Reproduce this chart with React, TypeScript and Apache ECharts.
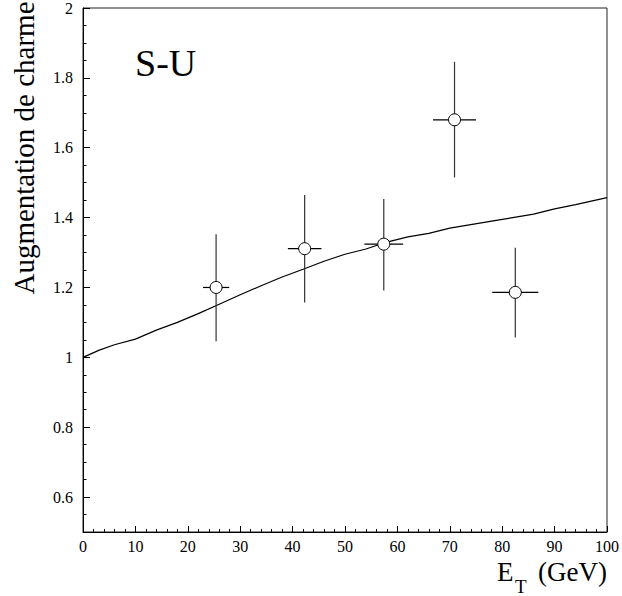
import React, { useEffect, useRef } from "react";
import * as echarts from "echarts";

// Model curve
const curveX = [0, 3, 6, 10, 14, 18, 22, 26, 30, 34, 38, 42, 46, 50, 54, 58, 62, 66, 70, 74, 78, 82, 86, 90, 94, 100];
const curveY = [1.0, 1.02, 1.036, 1.052, 1.078, 1.1, 1.125, 1.152, 1.179, 1.205, 1.23, 1.252, 1.275, 1.295, 1.31, 1.33, 1.345, 1.355, 1.37, 1.38, 1.39, 1.4, 1.41, 1.425, 1.437, 1.457];

// Data points with errors
const pointsX = [25.4, 42.3, 57.4, 70.9, 82.5];
const pointsY = [1.2, 1.311, 1.324, 1.68, 1.186];
const xErr = [2.5, 3.2, 3.7, 4.1, 4.4];
const yLow = [1.046, 1.157, 1.191, 1.515, 1.057];
const yHigh = [1.352, 1.465, 1.453, 1.846, 1.314];

const yMajorTicks = [0.6, 0.8, 1, 1.2, 1.4, 1.6, 1.8, 2];

const FONT = "'Liberation Serif', 'Times New Roman', Times, serif";

export default function App() {
  const ref = useRef<HTMLDivElement>(null);
  useEffect(() => {
    if (!ref.current) return;
    const chart = echarts.init(ref.current, null, { renderer: "svg" });
    const pts = pointsX.map((x, i) => [x, pointsY[i], xErr[i], yLow[i], yHigh[i]]);
    const option: any = {
      animation: false,
      backgroundColor: "#fff",
      textStyle: { fontFamily: FONT },
      grid: {
        left: 83,
        right: 14,
        top: 6,
        bottom: 64,
        show: true,
        borderColor: "#222",
        borderWidth: 1,
      },
      xAxis: {
        type: "value",
        min: 0,
        max: 100,
        interval: 10,
        axisLine: { show: true, lineStyle: { color: "#000", width: 1 } },
        axisTick: { show: true, inside: true, length: 6, lineStyle: { color: "#000" } },
        minorTick: { show: true, splitNumber: 5, length: 3, lineStyle: { color: "#000" } },
        splitLine: { show: false },
        axisLabel: { fontFamily: FONT, fontSize: 16, lineHeight: 14, color: "#000", margin: 7 },
      },
      yAxis: [
        {
          type: "value",
          position: "left",
          min: 0.5,
          max: 2,
          interval: 0.05,
          axisLine: { show: true, lineStyle: { color: "#000", width: 1 } },
          axisTick: { show: true, inside: true, length: 3.5, lineStyle: { color: "#000" } },
          axisLabel: { show: false },
          splitLine: { show: false },
        },
        {
          type: "value",
          position: "left",
          min: 0.5,
          max: 2,
          interval: 0.05,
          axisLine: { show: false },
          axisTick: {
            show: true,
            inside: true,
            length: 7,
            customValues: yMajorTicks,
            lineStyle: { color: "#000" },
          },
          axisLabel: {
            show: true,
            customValues: yMajorTicks,
            fontFamily: FONT,
            fontSize: 16,
            color: "#000",
            margin: 10,
          },
          splitLine: { show: false },
        },
      ],
      graphic: [
        {
          type: "text",
          x: 135,
          y: 63,
          style: {
            text: "S-U",
            fontFamily: FONT,
            fontSize: 38,
            fill: "#000",
            textVerticalAlign: "middle",
          },
        },
        {
          type: "text",
          x: 24,
          y: 148,
          rotation: Math.PI / 2,
          style: {
            text: "Augmentation de charme",
            fontFamily: FONT,
            fontSize: 29,
            fill: "#000",
            textAlign: "center",
            textVerticalAlign: "middle",
          },
        },
        {
          type: "text",
          x: 497,
          y: 572,
          style: {
            text: "E",
            fontFamily: FONT,
            fontSize: 27,
            lineHeight: 20,
            fill: "#000",
            textAlign: "left",
            textVerticalAlign: "middle",
          },
        },
        {
          type: "text",
          x: 515,
          y: 586,
          style: {
            text: "T",
            fontFamily: FONT,
            fontSize: 19,
            lineHeight: 13,
            fill: "#000",
            textAlign: "left",
            textVerticalAlign: "middle",
          },
        },
        {
          type: "text",
          x: 607,
          y: 572,
          style: {
            text: "(GeV)",
            fontFamily: FONT,
            fontSize: 27,
            lineHeight: 20,
            fill: "#000",
            textAlign: "right",
            textVerticalAlign: "middle",
          },
        },
      ],
      series: [
        {
          type: "line",
          data: curveX.map((x, i) => [x, curveY[i]]),
          showSymbol: false,
          symbol: "none",
          lineStyle: { color: "#000", width: 1.2 },
          yAxisIndex: 0,
          z: 2,
        },
        {
          type: "custom",
          data: pts,
          yAxisIndex: 0,
          encode: { x: 0, y: 1 },
          z: 3,
          renderItem: (params: any, api: any) => {
            const x = api.value(0);
            const y = api.value(1);
            const ex = api.value(2);
            const lo = api.value(3);
            const hi = api.value(4);
            const c = api.coord([x, y]);
            const l = api.coord([x - ex, y]);
            const r = api.coord([x + ex, y]);
            const t = api.coord([x, hi]);
            const b = api.coord([x, lo]);
            return {
              type: "group",
              children: [
                {
                  type: "line",
                  shape: { x1: t[0], y1: t[1], x2: b[0], y2: b[1] },
                  style: { stroke: "#333", lineWidth: 1.2 },
                },
                {
                  type: "line",
                  shape: { x1: l[0], y1: l[1], x2: r[0], y2: r[1] },
                  style: { stroke: "#000", lineWidth: 1.2 },
                },
                {
                  type: "circle",
                  shape: { cx: c[0], cy: c[1], r: 6 },
                  style: { fill: "#fff", stroke: "#000", lineWidth: 1 },
                },
              ],
            };
          },
        },
      ],
    };
    chart.setOption(option);
    return () => chart.dispose();
  }, []);
  return (
    <div
      ref={ref}
      style={{ position: "fixed", left: 0, top: 0, width: 622, height: 596 }}
    />
  );
}
